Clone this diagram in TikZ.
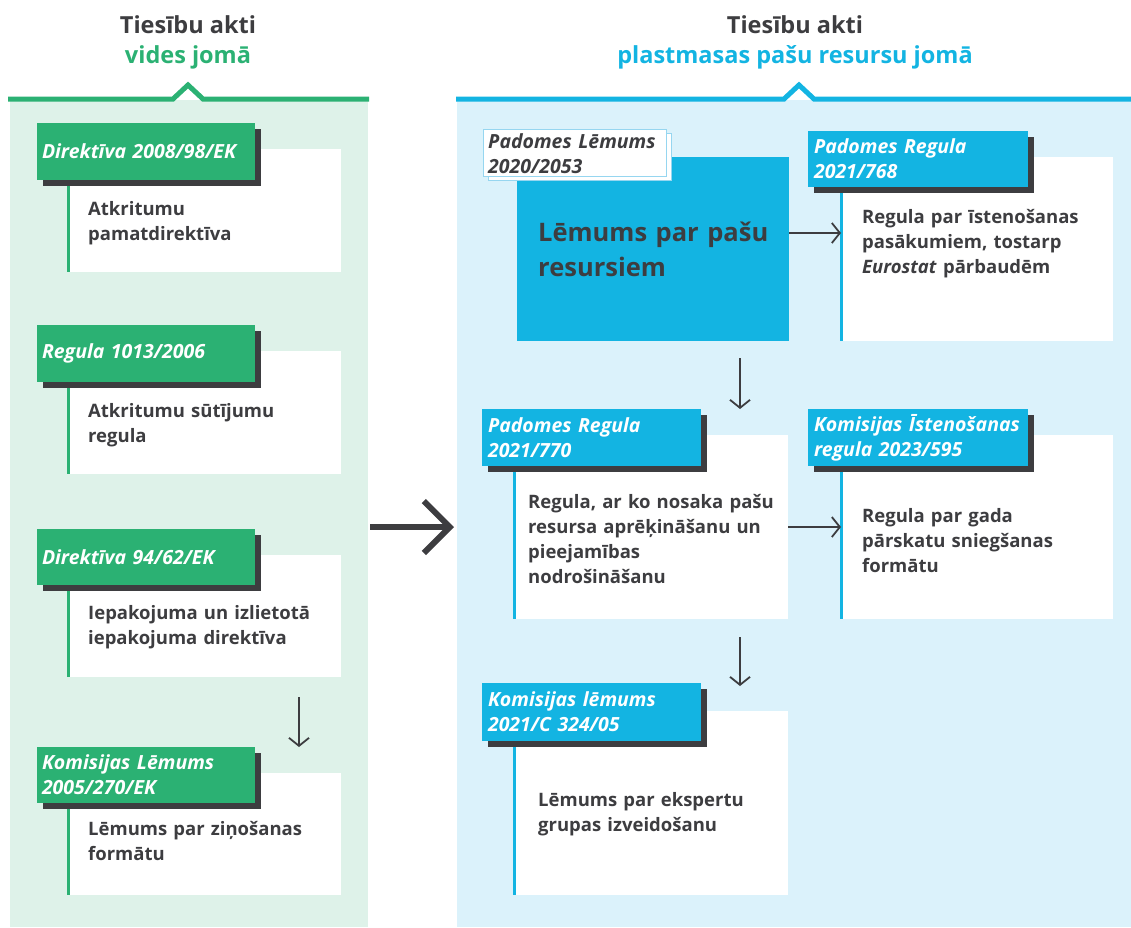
\documentclass[tikz,border=0pt]{standalone}
\usepackage{fontspec}
\setmainfont{Open Sans}
\usetikzlibrary{arrows.meta,shadows}
\definecolor{grn}{RGB}{43,177,115}
\definecolor{lgrn}{RGB}{222,242,233}
\definecolor{blu}{RGB}{19,180,226}
\definecolor{lblu}{RGB}{219,242,251}
\definecolor{dark}{RGB}{61,61,64}
\definecolor{olblu}{RGB}{150,214,240}
\begin{document}
\begin{tikzpicture}[x=1pt,y=-1pt,
  rect/.style={anchor=north west,inner sep=0pt,outer sep=0pt,draw=none},
  panel/.style={rect},
  hdr/.style={rect,text=white,font=\bfseries\itshape\fontsize{19.5}{25}\selectfont,
    text width=208pt,inner xsep=5pt,align=left,minimum height=57pt,
    copy shadow={shadow xshift=6pt,shadow yshift=-6pt,fill=dark,draw=none}},
  ghdr/.style={hdr,fill=grn},
  bhdr/.style={hdr,fill=blu},
  body/.style={rect,fill=white,minimum height=123pt},
  btext/.style={anchor=base west,inner sep=0pt,text=dark,text width=260pt,align=left,
    font=\bfseries\fontsize{18.5}{25.3}\selectfont},
  ttl/.style={anchor=base,inner sep=0pt,font=\bfseries\fontsize{23.5}{30}\selectfont},
  arr/.style={draw=dark,line width=1.8pt,-{Straight Barb[length=8pt,width=20pt,line width=1.8pt]}},
  bigarr/.style={draw=dark,line width=6pt,-{Straight Barb[length=26pt,width=52pt,line width=6pt]}}]
\useasboundingbox (0,0) rectangle (1131,927);
% panels
\node[panel,fill=lgrn,minimum width=358pt,minimum height=827pt] (lpanel) at (10,100) {};
\node[panel,fill=lblu,minimum width=674pt,minimum height=827pt] (rpanel) at (457,100) {};
\draw[grn,line width=5pt] (8,99) -- (173,99) -- (188,85) -- (203,99) -- (369,99);
\draw[blu,line width=5pt] (456,99) -- (784,99) -- (799,85) -- (814,99) -- (1131,99);
% titles
\node[ttl,text=dark] (tl1) at (188,33) {Tiesību akti};
\node[ttl,text=grn] (tl2) at (188,63) {vides jomā};
\node[ttl,text=dark] (tr1) at (795,33) {Tiesību akti};
\node[ttl,text=blu] (tr2) at (795,63) {plastmasas pašu resursu jomā};
% left bodies
\node[body,minimum width=273pt] (b1) at (68,149) {};
\node[body,minimum width=273pt] (b2) at (68,351) {};
\node[body,minimum width=273pt,minimum height=122pt] (b3) at (68,555) {};
\node[body,minimum width=273pt,minimum height=122pt] (b4) at (68,773) {};
\foreach \b in {b1,b2,b3,b4} \draw[grn,line width=3pt] (\b.north west) -- (\b.south west);
\node[ghdr] (h1) at (37,123) {Direktīva 2008/98/EK};
\node[ghdr] (h2) at (37,325) {Regula 1013/2006};
\node[ghdr,minimum height=56pt] (h3) at (37,529) {Direktīva 94/62/EK};
\node[ghdr,minimum height=56pt] (h4) at (37,747) {Komisijas Lēmums\\2005/270/EK};
\node[btext] (t1) at (88,215) {Atkritumu\\pamatdirektīva};
\node[btext] (t2) at (88,417) {Atkritumu sūtījumu\\regula};
\node[btext] (t3) at (88,619) {Iepakojuma un izlietotā\\iepakojuma direktīva};
\node[btext] (t4) at (88,835) {Lēmums par ziņošanas\\formātu};
% right side
\node[rect,fill=blu,minimum width=272pt,minimum height=184pt] (mA) at (517,157) {};
\node[rect,fill=white,draw=olblu,line width=1pt,minimum width=183pt,minimum height=47pt,
  copy shadow={shadow xshift=5pt,shadow yshift=-4pt,fill=white,draw=olblu,line width=1pt}] (la) at (483,129) {};
\node[btext,font=\bfseries\itshape\fontsize{19.5}{25}\selectfont] (lat) at (488,148) {Padomes Lēmums\\2020/2053};
\node[btext,text width=300pt,font=\bfseries\fontsize{25.5}{35}\selectfont] (mAt) at (538,241) {Lēmums par pašu\\resursiem};
\node[body,minimum width=272pt,minimum height=184pt] (bB) at (841,157) {};
\node[body,minimum width=274pt,minimum height=184pt] (bC) at (514,435) {};
\node[body,minimum width=272pt,minimum height=184pt] (bD) at (841,435) {};
\node[body,minimum width=274pt,minimum height=184pt] (bE) at (514,711) {};
\foreach \b in {bB,bC,bD,bE} \draw[blu,line width=3pt] (\b.north west) -- (\b.south west);
\node[bhdr,text width=208pt,inner xsep=6pt,minimum height=56pt] (hB) at (808,131) {Padomes Regula\\2021/768};
\node[bhdr,text width=207pt,inner xsep=6pt] (hC) at (482,409) {Padomes Regula\\2021/770};
\node[bhdr,text width=208pt,inner xsep=6pt] (hD) at (808,409) {Komisijas Īstenošanas\\regula 2023/595};
\node[bhdr,text width=207pt,inner xsep=6pt,minimum height=58pt] (hE) at (482,683) {Komisijas lēmums\\2021/C 324/05};
\node[btext] (tB) at (862,223) {Regula par īstenošanas\\pasākumiem, tostarp\\\textit{Eurostat} pārbaudēm};
\node[btext] (tC) at (528,508) {Regula, ar ko nosaka pašu\\resursa aprēķināšanu un\\pieejamības\\nodrošināšanu};
\node[btext] (tD) at (862,522) {Regula par gada\\pārskatu sniegšanas\\formātu};
\node[btext] (tE) at (538,806) {Lēmums par ekspertu\\grupas izveidošanu};
% arrows
\draw[bigarr] ([xshift=2pt]lpanel.east |- bC.east) -- ([xshift=-3pt]rpanel.west |- bC.east);
\draw[arr] ([yshift=16pt]mA.east) -- ([yshift=16pt]mA.east -| bB.west);
\draw[arr] (bC.east) -- (bC.east -| bD.west);
\draw[arr] ([xshift=-49pt,yshift=-17pt]mA.south east) -- ([xshift=-49pt]mA.south east |- hC.north);
\draw[arr] ([xshift=-48pt,yshift=-18pt]bC.south east) -- ([xshift=-48pt,yshift=-3pt]bC.south east |- hE.north);
\draw[arr] ([xshift=-42pt,yshift=-20pt]b3.south east) -- ([xshift=-42pt]b3.south east |- h4.north);
\end{tikzpicture}
\end{document}
